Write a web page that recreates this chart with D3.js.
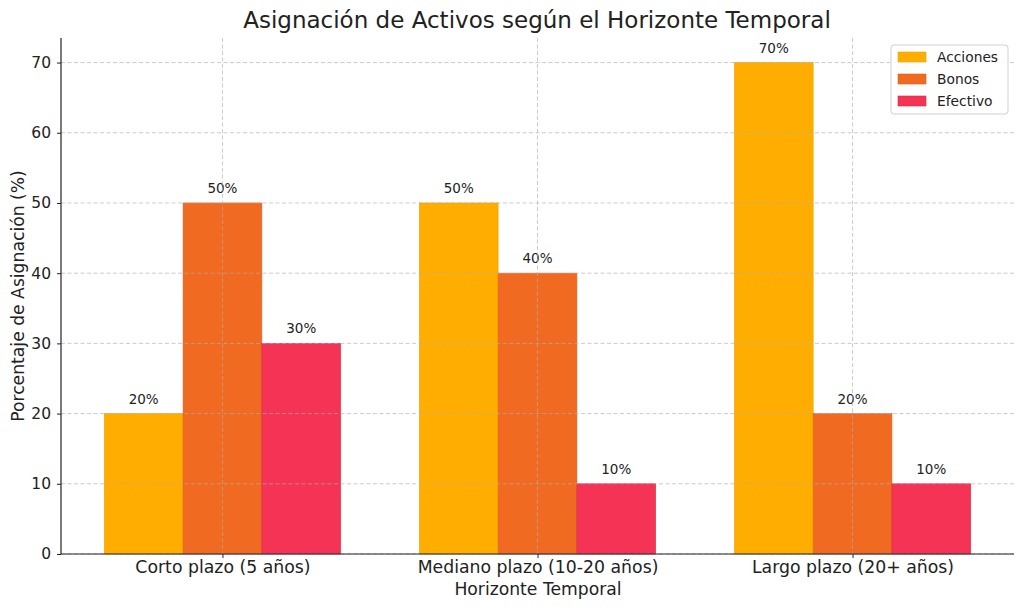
<html><head>
<script src="https://d3js.org/d3.v7.min.js"></script>
<style>
  body { margin: 0; background: #fff; }
  text { font-family: "DejaVu Sans", sans-serif; fill: #222; }
</style>
</head>
<body>
<svg id="chart" width="1024" height="610"></svg>
<script>
// data
const horizons = ["Corto plazo (5 años)", "Mediano plazo (10-20 años)", "Largo plazo (20+ años)"];
const assets = ["Acciones", "Bonos", "Efectivo"];
const acciones = [20, 50, 70];
const bonos = [50, 40, 20];
const efectivo = [30, 10, 10];
const yTicks = [0, 10, 20, 30, 40, 50, 60, 70];
const colors = ["#FFAE00", "#F06A22", "#F53455"];
const edges = ["#F0A000", "#E06020", "#D82848"];

const series = [acciones, bonos, efectivo];

const svg = d3.select("#chart");
const padL = 61, padR = 1014, padT = 38, padB = 554;

// matplotlib-ish continuous x: groups at 0,1,2, bar width 0.25
const x = d3.scaleLinear().domain([-0.5125, 2.5125]).range([padL, padR]);
const y = d3.scaleLinear().domain([0, 73.5]).range([padB, padT]);
const barW = 0.25;

// bars
series.forEach((vals, i) => {
  svg.append("g").selectAll("rect").data(vals).join("rect")
    .attr("x", (d, j) => x(j + (i - 1) * barW - barW / 2))
    .attr("width", x(barW) - x(0))
    .attr("y", d => y(d))
    .attr("height", d => y(0) - y(d))
    .attr("fill", colors[i])
    .attr("stroke", edges[i])
    .attr("stroke-width", 0.6);

  svg.append("g").selectAll("text").data(vals).join("text")
    .attr("x", (d, j) => x(j + (i - 1) * barW))
    .attr("y", d => y(d) - 10)
    .attr("text-anchor", "middle")
    .attr("font-size", 13.5)
    .text(d => d + "%");
});

// grid (drawn over the bars, like the source)
const grid = svg.append("g").attr("stroke", "#b0b0b0").attr("stroke-dasharray", "4,2.5").attr("stroke-width", 0.8).attr("opacity", 0.8);
grid.selectAll("line.h").data(yTicks).join("line").attr("class", "h")
  .attr("x1", padL).attr("x2", padR).attr("y1", d => y(d)).attr("y2", d => y(d));
grid.selectAll("line.v").data(horizons).join("line").attr("class", "v")
  .attr("x1", (d, j) => x(j)).attr("x2", (d, j) => x(j)).attr("y1", padT).attr("y2", padB);

// axes
const yAxis = svg.append("g").attr("transform", "translate(" + padL + ",0)")
  .call(d3.axisLeft(y).tickValues(yTicks).tickSize(4).tickPadding(6));
const xAxis = svg.append("g").attr("transform", "translate(0," + padB + ")")
  .call(d3.axisBottom(x).tickValues([0, 1, 2]).tickFormat((d, j) => horizons[j]).tickSize(4).tickPadding(3));
[yAxis, xAxis].forEach(a => {
  a.select(".domain").attr("stroke", "#222").attr("stroke-width", 1.2);
  a.selectAll(".tick line").attr("stroke", "#222");
  a.selectAll(".tick text").attr("font-family", "DejaVu Sans").attr("fill", "#222");
});
yAxis.selectAll(".tick text").attr("font-size", 15.5);
xAxis.selectAll(".tick text").attr("font-size", 17.3);
// the y domain line should reach the top of the frame
yAxis.select(".domain").attr("d", "M0," + padT + "V" + padB);
xAxis.select(".domain").attr("d", "M" + padL + ",0H" + padR);

// titles
svg.append("text").attr("x", 537).attr("y", 28).attr("text-anchor", "middle")
  .attr("font-size", 23).text("Asignación de Activos según el Horizonte Temporal");
svg.append("text").attr("x", 538).attr("y", 595).attr("text-anchor", "middle")
  .attr("font-size", 17.2).text("Horizonte Temporal");
svg.append("text").attr("transform", "translate(24,296) rotate(-90)")
  .attr("text-anchor", "middle").attr("font-size", 17.2).text("Porcentaje de Asignación (%)");

// legend
const lg = svg.append("g").attr("transform", "translate(891,45)");
lg.append("rect").attr("width", 117).attr("height", 69).attr("rx", 3)
  .attr("fill", "#fff").attr("fill-opacity", 0.85).attr("stroke", "#d0d0d0");
assets.forEach((a, i) => {
  lg.append("rect").attr("x", 7).attr("y", 7 + i * 22).attr("width", 28).attr("height", 10)
    .attr("fill", colors[i]).attr("stroke", edges[i]).attr("stroke-width", 0.6);
  lg.append("text").attr("x", 46).attr("y", 17 + i * 22).attr("font-size", 13.8).text(a);
});
</script>
</body></html>
